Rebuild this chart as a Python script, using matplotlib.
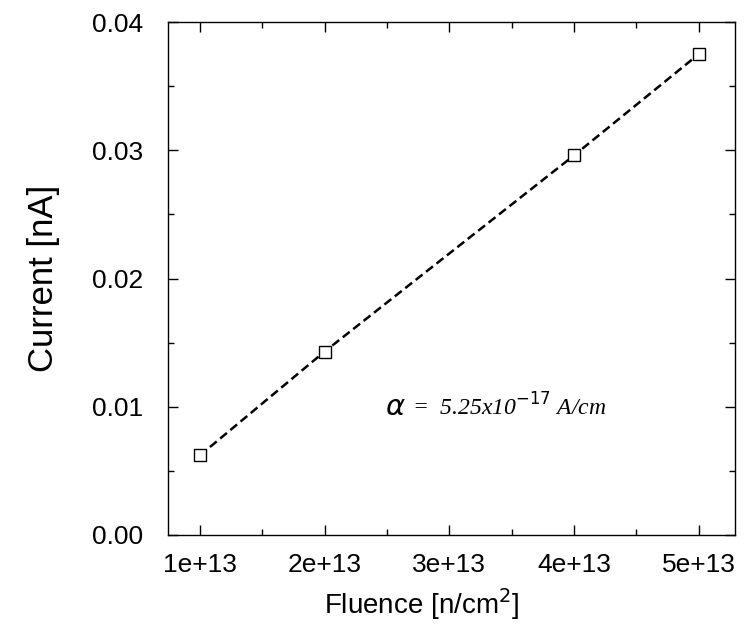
import matplotlib
matplotlib.use("Agg")
import matplotlib.pyplot as plt
from matplotlib.ticker import MultipleLocator

fluence = [1e13, 2e13, 4e13, 5e13]
current = [0.0062, 0.0143, 0.0296, 0.0375]
xticks = [1e13, 2e13, 3e13, 4e13, 5e13]
xticklabels = ["1e+13", "2e+13", "3e+13", "4e+13", "5e+13"]
yticks = [0.00, 0.01, 0.02, 0.03, 0.04]
yticklabels = ["0.00", "0.01", "0.02", "0.03", "0.04"]

plt.rcParams['font.family'] = ['Liberation Sans', 'DejaVu Sans']

fig = plt.figure(figsize=(7.47, 6.27), dpi=100)
ax = fig.add_axes([168/747, 1-535/627, (735-168)/747, (535-22)/627])

ax.plot(fluence, current, linestyle=(0, (3.5, 1.8)), color='black', linewidth=1.8,
        marker='s', markersize=8, markerfacecolor='white', markeredgecolor='black',
        markeredgewidth=1.0)

ax.set_xlim(0.745e13, 5.29e13)
ax.set_ylim(0.0, 0.04)
ax.set_xticks(xticks)
ax.set_xticklabels(xticklabels, fontsize=19)
ax.set_yticks(yticks)
ax.set_yticklabels(yticklabels, fontsize=19)
ax.xaxis.set_minor_locator(MultipleLocator(0.5e13))
ax.yaxis.set_minor_locator(MultipleLocator(0.005))
ax.tick_params(which='both', direction='in', top=True, right=True)
ax.tick_params(axis='x', which='major', length=7, width=1.0, pad=13)
ax.tick_params(axis='y', which='major', length=7, width=1.0, pad=18)
ax.tick_params(which='minor', length=4, width=1.0)
for s in ax.spines.values():
    s.set_linewidth(1.0)

ax.set_xlabel("Fluence [n/cm$^2$]", fontsize=20)
ax.xaxis.set_label_coords(0.447, -0.1)
ax.xaxis.label.set_va('top')
ax.set_ylabel("Current [nA]", fontsize=25)
ax.yaxis.set_label_coords(-0.19, 0.5)

ax.text(0.383, 0.233, r"$\alpha$", transform=ax.transAxes, fontsize=21,
        family='DejaVu Serif', va='baseline')
ax.text(0.43, 0.233, r"=  5.25x10$^{-17}$ A/cm", transform=ax.transAxes,
        fontsize=17, family='Liberation Serif', style='italic', va='baseline')

fig.savefig("out.png", dpi=100)
